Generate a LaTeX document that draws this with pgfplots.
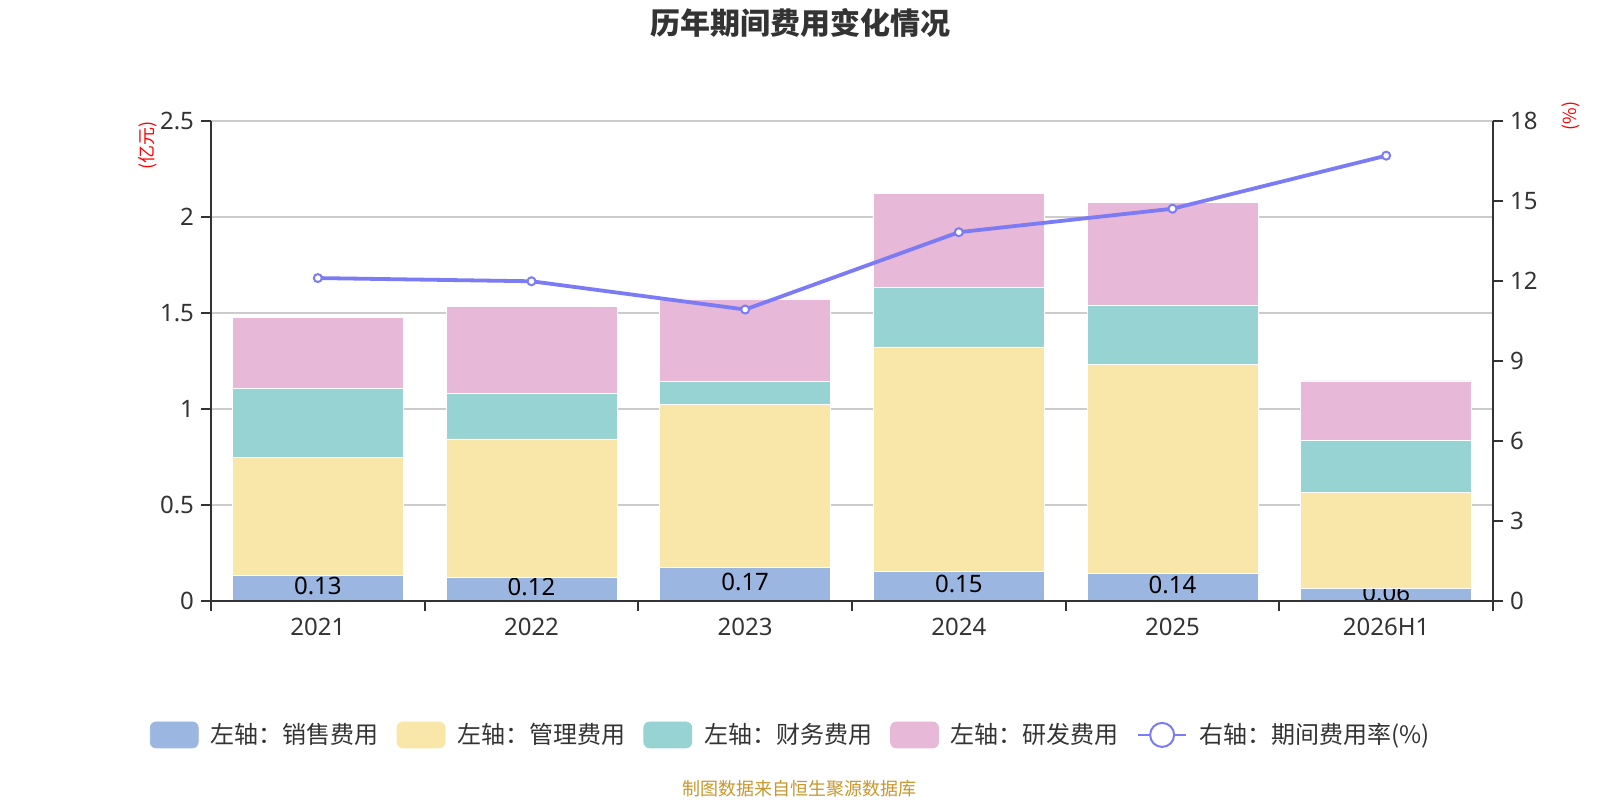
\documentclass[border=0pt]{standalone}
\usepackage{pgfplots}
\pgfplotsset{compat=1.18}
\usepackage{fontspec}
\setmainfont{Noto Sans}
\newfontfamily\cjk{Noto Sans CJK SC}
\definecolor{cblue}{RGB}{155,183,225}
\definecolor{cyellow}{RGB}{248,231,169}
\definecolor{cteal}{RGB}{152,211,212}
\definecolor{cpink}{RGB}{231,184,215}
\definecolor{cline}{RGB}{123,123,245}
\definecolor{caxis}{RGB}{51,51,51}
\definecolor{cgrid}{RGB}{204,204,204}
\definecolor{csrc}{RGB}{200,150,45}
\begin{document}
\begin{tikzpicture}
\pgfplotsset{
  common/.style={
    at={(105.5bp,99.5bp)}, anchor=south west,
    scale only axis, width=641bp, height=240bp,
    xmin=-0.5, xmax=5.5,
    tick align=outside,
    major tick length=5bp, minor tick length=5bp,
    axis line style={draw=caxis, line width=1bp},
    tick style={draw=caxis, line width=1bp},
    tick label style={font=\fontsize{12bp}{14bp}\selectfont, text=caxis},
    /pgf/number format/assume math mode=true,
    ylabel style={anchor=center, font=\cjk\fontsize{9bp}{10bp}\selectfont, text=red},
  }
}
% left axis, grid and the bottom segment
\begin{axis}[common,
  ybar stacked, bar width=0.8,
  ymin=0, ymax=2.5, ytick={0,0.5,1,1.5,2,2.5},
  yticklabels={0,0.5,1,1.5,2,2.5},
  axis x line=none, axis y line*=left,
  ymajorgrids, grid style={draw=cgrid, line width=0.6bp},
  ylabel={(亿元)},
  ylabel style={at={(axis description cs:-0.049,0.9485)}, rotate=0},
]
\addplot[fill=cblue, draw=white, line width=0.3bp] coordinates {(0,0.135) (1,0.125) (2,0.174) (3,0.153) (4,0.144) (5,0.064)};
\end{axis}
% value labels of the bottom segment
\begin{axis}[common, hide axis, ymin=0, ymax=2.5]
\addplot[draw=none, mark=none, nodes near coords, point meta=explicit symbolic,
  every node near coord/.append style={anchor=center, yshift=1.1bp, font=\fontsize{12bp}{14bp}\selectfont, text=black}]
  coordinates {(0,0.0675)[0.13] (1,0.0625)[0.12] (2,0.087)[0.17] (3,0.0765)[0.15] (4,0.072)[0.14] (5,0.032)[0.06]};
\end{axis}
% upper segments
\begin{axis}[common, hide axis, ybar stacked, bar width=0.8, ymin=0, ymax=2.5]
\addplot[draw=none, fill=none] coordinates {(0,0.135) (1,0.125) (2,0.174) (3,0.153) (4,0.144) (5,0.064)};
\addplot[fill=cyellow, draw=white, line width=0.3bp] coordinates {(0,0.611) (1,0.719) (2,0.850) (3,1.170) (4,1.090) (5,0.502)};
\addplot[fill=cteal, draw=white, line width=0.3bp] coordinates {(0,0.360) (1,0.239) (2,0.119) (3,0.311) (4,0.308) (5,0.269)};
\addplot[fill=cpink, draw=white, line width=0.3bp] coordinates {(0,0.369) (1,0.452) (2,0.430) (3,0.489) (4,0.533) (5,0.311)};
\end{axis}
% right axis, x axis, line and legend
\begin{axis}[common,
  ymin=0, ymax=18, ytick={0,3,6,9,12,15,18},
  axis y line*=right, axis x line*=bottom,
  xtick={0,1,2,3,4,5},
  xticklabels={2021,2022,2023,2024,2025,2026H1},
  major x tick style={draw=none},
  minor xtick={-0.5,0.5,1.5,2.5,3.5,4.5,5.5},
  ylabel={(\%)},
  ylabel style={at={(axis description cs:1.0606,1.0104)}},
  legend columns=5,
  legend style={at={(axis description cs:0.453,-0.279)}, anchor=center,
    draw=none, fill=none, font=\cjk\fontsize{12bp}{14bp}\selectfont, text=caxis,
    /tikz/every odd column/.append style={column sep=4bp},
    /tikz/every even column/.append style={column sep=7bp},
    cells={anchor=west}},
]
\addlegendimage{legend image code/.code={\fill[cblue, rounded corners=3bp] (0bp,-6.5bp) rectangle (24bp,6.5bp);}}
\addlegendentry{左轴：销售费用}
\addlegendimage{legend image code/.code={\fill[cyellow, rounded corners=3bp] (0bp,-6.5bp) rectangle (24bp,6.5bp);}}
\addlegendentry{左轴：管理费用}
\addlegendimage{legend image code/.code={\fill[cteal, rounded corners=3bp] (0bp,-6.5bp) rectangle (24bp,6.5bp);}}
\addlegendentry{左轴：财务费用}
\addlegendimage{legend image code/.code={\fill[cpink, rounded corners=3bp] (0bp,-6.5bp) rectangle (24bp,6.5bp);}}
\addlegendentry{左轴：研发费用}
\addplot[color=cline, line width=1.9bp, mark=*, mark size=2bp,
  mark options={fill=white, draw=cline, line width=1bp},
  legend image code/.code={\draw[cline, line width=1.2bp] (0bp,0bp) -- (24bp,0bp); \draw[cline, line width=1bp, fill=white] (12bp,0bp) circle (6bp);}]
  coordinates {(0,12.11) (1,11.99) (2,10.93) (3,13.83) (4,14.71) (5,16.70)};
\addlegendentry{右轴：期间费用率(\%)}
\end{axis}
\node[font=\cjk\bfseries\fontsize{15bp}{18bp}\selectfont, text=caxis] at (400bp,388.7bp) {历年期间费用变化情况};
\node[font=\cjk\fontsize{9bp}{10bp}\selectfont, text=csrc] at (399.5bp,5.5bp) {制图数据来自恒生聚源数据库};
\pgfresetboundingbox
\path[use as bounding box] (0,0) rectangle (800bp,400bp);
\end{tikzpicture}
\end{document}
